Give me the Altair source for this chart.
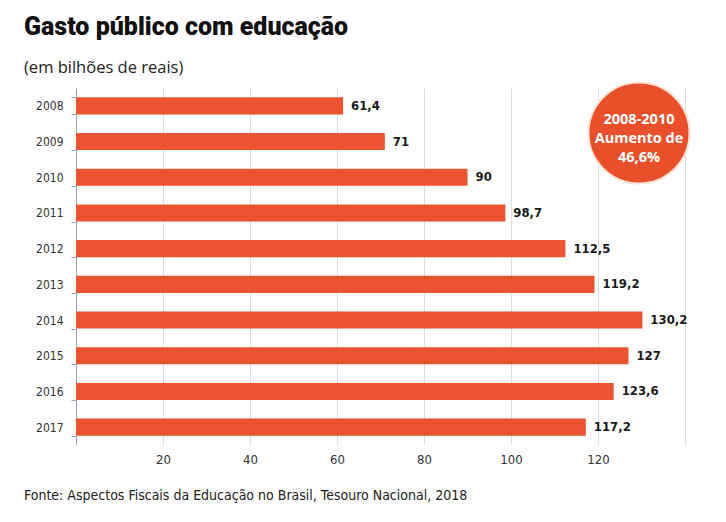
import altair as alt
import pandas as pd

years = ["2008", "2009", "2010", "2011", "2012", "2013", "2014", "2015", "2016", "2017"]
values = [61.4, 71, 90, 98.7, 112.5, 119.2, 130.2, 127, 123.6, 117.2]
x_ticks = [20, 40, 60, 80, 100, 120, 140]

title = "Gasto público com educação"
subtitle = "(em bilhões de reais)"
source = "Fonte: Aspectos Fiscais da Educação no Brasil, Tesouro Nacional, 2018"
badge_lines = ["2008-2010", "Aumento de", "46,6%"]


def fmt(v):
    s = ("%g" % v)
    return s.replace(".", ",")


df = pd.DataFrame({"ano": years, "valor": values, "rotulo": [fmt(v) for v in values]})

BAR = "#EC5330"
CONDENSED = "DejaVu Sans Condensed, DejaVu Sans, sans-serif"

y_enc = alt.Y(
    "ano:N",
    sort=years,
    scale=alt.Scale(paddingInner=0.52, paddingOuter=0.26),
    axis=alt.Axis(
        title=None,
        tickBand="extent",
        domainColor="#9aa3ad",
        tickColor="#9aa3ad",
        tickSize=5,
        labelPadding=8,
        labelFont=CONDENSED,
        labelFontSize=12,
        labelColor="#333333",
        grid=False,
    ),
)
x_enc = alt.X(
    "valor:Q",
    scale=alt.Scale(domain=[0, 140], nice=False),
    axis=alt.Axis(
        title=None,
        values=x_ticks,
        labelExpr="datum.value == 140 ? '' : datum.label",
        grid=True,
        gridColor="#dcdcdc",
        domain=False,
        ticks=False,
        labelPadding=8,
        labelFont=CONDENSED,
        labelFontSize=13,
        labelColor="#333333",
    ),
)

bars = alt.Chart(df).mark_bar(color=BAR).encode(x=x_enc, y=y_enc)

labels = alt.Chart(df).mark_text(
    align="left", baseline="middle", dx=8, fontWeight="bold",
    font=CONDENSED, fontSize=13, color="#1a1a1a"
).encode(x="valor:Q", y=alt.Y("ano:N", sort=years), text="rotulo:N")

t_title = alt.Chart(pd.DataFrame({"t": [title]})).mark_text(
    align="left", baseline="alphabetic", font="Roboto", fontWeight=900,
    fontSize=25, color="#111111"
).encode(x=alt.value(-52), y=alt.value(-53), text="t:N")

t_sub = alt.Chart(pd.DataFrame({"t": [subtitle]})).mark_text(
    align="left", baseline="alphabetic", font="Open Sans",
    fontSize=16.5, color="#222222"
).encode(x=alt.value(-52), y=alt.value(-15), text="t:N")

t_src = alt.Chart(pd.DataFrame({"t": [source]})).mark_text(
    align="left", baseline="alphabetic", font=CONDENSED,
    fontSize=14, color="#222222"
).encode(x=alt.value(-52), y=alt.value(412), text="t:N")

circle = alt.Chart(pd.DataFrame({"c": [1]})).mark_circle(
    color="#E8502B", opacity=1, size=10200, stroke="#fbe3d3", strokeWidth=2
).encode(x=alt.value(563), y=alt.value(45))

badge_df = pd.DataFrame({"t": badge_lines, "yy": [32, 51, 70]})
badge = alt.Chart(badge_df).mark_text(
    align="center", baseline="middle", font="Open Sans", fontWeight="bold",
    fontSize=14.5, color="white"
).encode(x=alt.value(563), y=alt.Y("yy:Q", scale=None), text="t:N")

chart = alt.layer(bars, labels, circle, badge, t_title, t_sub, t_src).properties(
    width=609, height=357,
    autosize=alt.AutoSizeParams(type="none"),
    padding={"left": 68, "top": 80, "right": 33, "bottom": 69},
    background="white",
).configure_view(stroke=None)

chart.save("out.html", embed_options={"renderer": "svg", "actions": False})
